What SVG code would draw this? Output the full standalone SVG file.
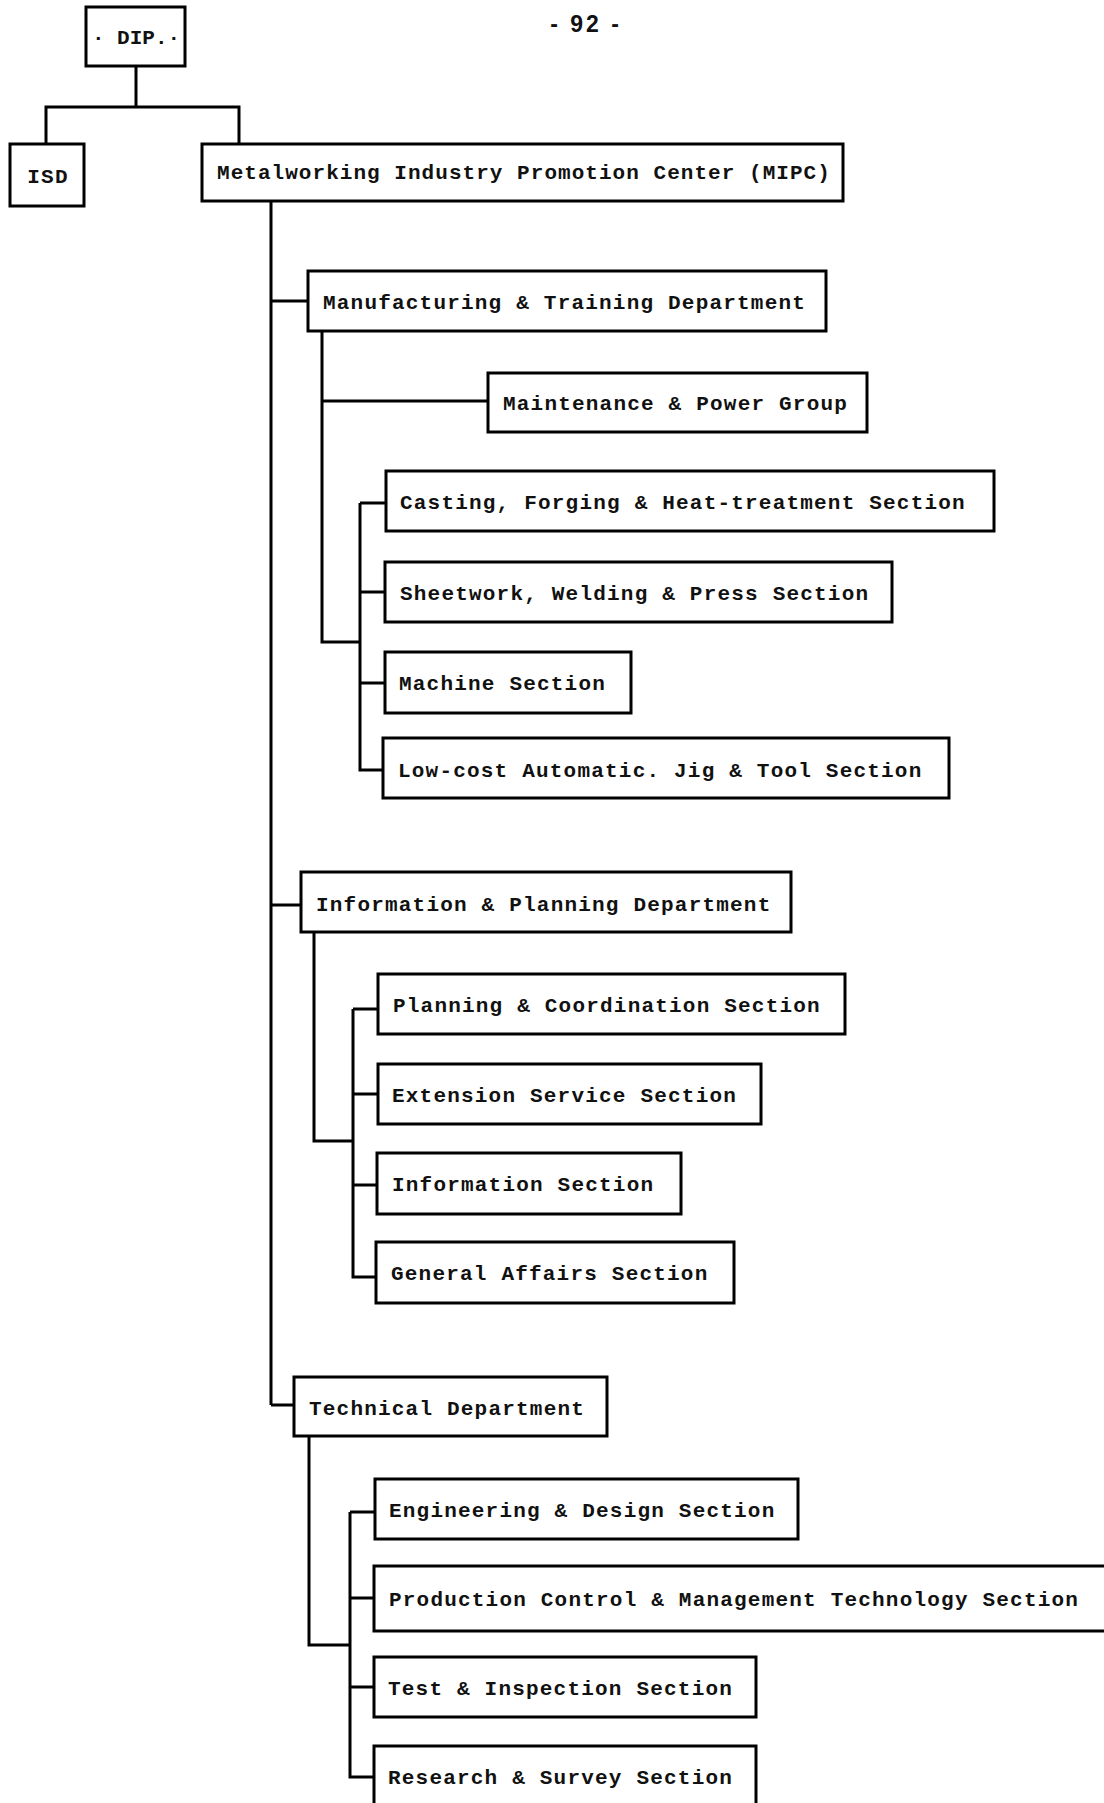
<svg xmlns="http://www.w3.org/2000/svg" width="1104" height="1803" viewBox="0 0 1104 1803">
<style>
.b{fill:#fff;stroke:#000;stroke-width:3}
.t{font-family:"Liberation Mono","DejaVu Sans Mono",monospace;font-weight:bold;font-size:21px;letter-spacing:1.2px;fill:#111}
.c{fill:none;stroke:#000;stroke-width:3;stroke-linejoin:miter}
.p{font-family:"Liberation Sans",Arial,sans-serif;font-weight:bold;font-size:23px;letter-spacing:3px;fill:#111}
</style>
<rect width="1104" height="1803" fill="#fff"/>
<text class="p" x="586" y="32" text-anchor="middle">- 92 -</text>
<g id="connectors">
<path class="c" d="M136 66V107M46 144V107H239V144"/>
<path class="c" d="M271 201V1405M271 301H308M271 905H301M271 1405H294"/>
<path class="c" d="M322 331V642H360M322 401H488"/>
<path class="c" d="M360 503V770H383M360 503H386M360 592H385M360 683H385"/>
<path class="c" d="M314 932V1141H353"/>
<path class="c" d="M353 1009V1277H376M353 1009H378M353 1094H378M353 1185H377"/>
<path class="c" d="M309 1436V1645H350"/>
<path class="c" d="M350 1512V1777H374M350 1512H375M350 1598H374M350 1687H374"/>
</g>
<g id="dip"><rect class="b" x="86" y="7" width="99" height="59"/><text class="t" x="136" y="44" text-anchor="middle" style="letter-spacing:0">· DIP.·</text></g>
<g id="isd"><rect class="b" x="10" y="144" width="74" height="62"/><text class="t" x="48" y="183" text-anchor="middle">ISD</text></g>
<g id="mipc"><rect class="b" x="202" y="144" width="641" height="57"/><text class="t" x="217" y="179" textLength="614">Metalworking Industry Promotion Center (MIPC)</text></g>
<g id="mtd"><rect class="b" x="308" y="271" width="518" height="60"/><text class="t" x="323" y="309">Manufacturing &amp; Training Department</text></g>
<g id="mpg"><rect class="b" x="488" y="373" width="379" height="59"/><text class="t" x="503" y="410">Maintenance &amp; Power Group</text></g>
<g id="cfh"><rect class="b" x="386" y="471" width="608" height="60"/><text class="t" x="400" y="509">Casting, Forging &amp; Heat-treatment Section</text></g>
<g id="swp"><rect class="b" x="385" y="562" width="507" height="60"/><text class="t" x="400" y="600">Sheetwork, Welding &amp; Press Section</text></g>
<g id="mach"><rect class="b" x="385" y="652" width="246" height="61"/><text class="t" x="399" y="690">Machine Section</text></g>
<g id="lca"><rect class="b" x="383" y="738" width="566" height="60"/><text class="t" x="398" y="777">Low-cost Automatic. Jig &amp; Tool Section</text></g>
<g id="ipd"><rect class="b" x="301" y="872" width="490" height="60"/><text class="t" x="316" y="911">Information &amp; Planning Department</text></g>
<g id="pcs"><rect class="b" x="378" y="974" width="467" height="60"/><text class="t" x="393" y="1012">Planning &amp; Coordination Section</text></g>
<g id="ess"><rect class="b" x="378" y="1064" width="383" height="60"/><text class="t" x="392" y="1102">Extension Service Section</text></g>
<g id="ins"><rect class="b" x="377" y="1153" width="304" height="61"/><text class="t" x="392" y="1191">Information Section</text></g>
<g id="gas"><rect class="b" x="376" y="1242" width="358" height="61"/><text class="t" x="391" y="1280">General Affairs Section</text></g>
<g id="td"><rect class="b" x="294" y="1377" width="313" height="59"/><text class="t" x="309" y="1415">Technical Department</text></g>
<g id="eds"><rect class="b" x="375" y="1479" width="423" height="60"/><text class="t" x="389" y="1517">Engineering &amp; Design Section</text></g>
<g id="pcm"><rect class="b" x="374" y="1566" width="740" height="65"/><text class="t" x="389" y="1606">Production Control &amp; Management Technology Section</text></g>
<g id="tis"><rect class="b" x="374" y="1657" width="382" height="60"/><text class="t" x="388" y="1695">Test &amp; Inspection Section</text></g>
<g id="rss"><rect class="b" x="374" y="1746" width="382" height="70"/><text class="t" x="388" y="1784">Research &amp; Survey Section</text></g>
</svg>
